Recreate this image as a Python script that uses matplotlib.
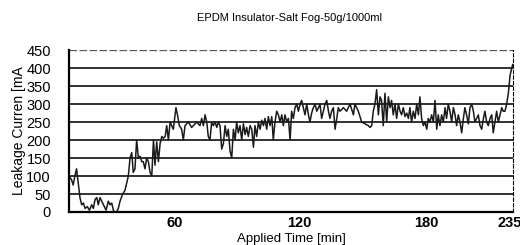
import numpy as np
import matplotlib.pyplot as plt

plt.rcParams['font.family'] = ['Liberation Sans', 'DejaVu Sans']

# leakage current trace (time in min, current in mA)
time_min = [0, 1.3, 2.2, 3.1, 4.0, 4.9, 5.8, 6.7, 7.6, 8.5, 9.7, 10.8, 12.0, 12.9, 13.8,
            14.7, 15.5, 16.4, 17.3, 18.2, 19.6, 20.8, 21.7, 22.6, 23.5, 24.3, 25.2, 26.1,
            27.0, 28.4, 29.6, 30.5, 31.4, 32.3, 33.2, 34.0, 34.9, 35.8, 36.7, 37.6, 38.5,
            39.3, 40.2, 41.1, 42.0, 42.9, 43.8, 44.7, 45.5, 46.4, 47.3, 48.2, 49.1, 50.0,
            50.9, 51.7, 52.6, 53.5,
            55.2, 56.6, 57.4, 58.4, 59.6, 60.5, 61.4, 63.2, 64.9, 67.6, 69.3, 70.2, 71.1,
            72.0, 72.9, 73.7, 74.6, 75.5, 76.4, 77.3, 78.2, 79.0, 79.9, 80.8, 81.7, 82.6,
            83.5, 84.3, 85.2, 86.1, 87.0, 87.9, 88.7, 89.6, 90.5, 91.4, 92.3, 93.2, 94.0,
            94.9, 95.8, 96.7, 97.6, 98.4, 99.3, 100.2, 101.1, 102.0, 102.9, 103.7, 104.6,
            105.5, 106.4, 107.3, 108.1, 109.0, 109.9, 110.8, 111.7, 112.6, 113.4, 114.3,
            115.2, 116.1, 117.0, 117.8, 118.7, 119.6, 120.5, 121.4, 122.3, 123.1, 124.0,
            124.9, 125.8, 126.7, 127.5, 128.4, 129.3, 130.2, 131.1, 132.0, 132.8, 133.7,
            134.6, 135.5, 136.4, 137.3, 138.1, 139.0, 139.9, 140.8, 141.7, 142.5,
            143.4, 145.2, 146.9, 148.7, 150.5, 151.3, 153.1, 154.9, 156.6, 158.4, 159.3,
            160.2, 161.0, 161.9, 162.8, 163.7, 164.6, 165.4, 166.3, 167.2, 168.1, 169.0,
            169.9, 170.7, 171.6, 172.5, 173.4, 174.3, 175.2, 176.0, 176.9, 177.8, 178.7,
            179.6, 180.4, 181.3, 182.2, 183.1, 184.0, 184.9, 185.7, 186.6, 187.5, 188.4,
            189.3, 190.1, 191.0, 191.9, 192.8, 193.7, 194.6, 195.4, 196.3, 197.2, 198.1,
            199.0, 199.8, 200.7, 201.6, 202.5, 203.4, 204.3, 205.1, 206.0, 206.9, 207.8,
            208.7, 209.5, 210.4, 211.3, 212.2, 213.1, 214.0, 214.8, 215.7, 216.6, 217.5,
            218.4, 219.3, 220.1, 221.0, 221.9, 222.8, 223.7, 224.5, 225.4, 226.3, 227.2,
            228.1, 229.0, 229.8, 230.7, 231.6, 232.5, 233.4, 234.3, 234.8]
current_ma = [100, 90, 75, 100, 120, 80, 40, 20, 25, 10, 15, 5, 20, 10, 35,
              40, 20, 40, 30, 20, 5, 30, 20, 25, 5, 0, 0, 10,
              30, 50, 60, 80, 100, 150, 165, 110, 120, 200, 150, 155, 140,
              140, 120, 150, 140, 110, 100, 200, 130, 195, 140, 190, 210, 205,
              210, 240, 200, 250,
              230, 290, 270, 240, 230, 200, 240, 250, 235, 250, 240, 260, 240,
              270, 250, 210, 200, 250, 240, 250, 235, 250, 240, 175, 190, 240,
              210, 230, 170, 150, 230, 200, 250, 220, 240, 200, 245, 215, 235,
              210, 240, 230, 180, 240, 210, 250, 230, 255, 240, 260, 230,
              265, 240, 265, 200, 250, 280, 270, 250, 270, 240, 270,
              250, 260, 200, 280, 260, 290, 300, 280, 300, 310, 290,
              270, 300, 270, 250, 275, 290, 300, 280, 290, 300, 260,
              280, 300, 310, 280, 260, 280, 290, 230, 260, 290,
              280, 290, 280, 300, 270, 300, 280, 250, 245, 240, 235,
              240, 280, 300, 340, 270, 320, 310, 240, 330, 250, 320,
              290, 310, 270, 300, 260, 300, 280, 270, 290, 265, 275,
              260, 290, 250, 280, 260, 300, 270, 320, 260, 240, 250,
              230, 260, 250, 270, 250, 310, 230, 270, 240, 270, 250,
              290, 260, 300, 280, 250, 290, 270, 240, 270, 250, 220,
              260, 290, 270, 245, 290, 300, 280, 250, 260, 270, 240,
              230, 260, 280, 250, 240, 260, 270, 220, 250, 280, 250,
              270, 290, 280, 280, 300, 330, 380, 400, 410]

# tick positions as they sit on the original axis
xtick_pos = [56, 122, 189, 233]
xtick_labels = ['60', '120', '180', '235']
yticks = np.arange(0, 451, 50)

fig = plt.figure(figsize=(5.2, 2.45), dpi=100)
ax = fig.add_axes([0.1327, 0.1347, 0.854, 0.661])

for y in yticks[1:-1]:
    ax.axhline(y, color='#222222', lw=1.3, zorder=1)
ax.axhline(450, color='#555555', lw=0.9, ls=(0, (6, 2)), zorder=1)

ax.plot(time_min, current_ma, color='#1a1a1a', lw=1.1, zorder=2)

ax.set_xlim(0, 235)
ax.set_ylim(0, 450)
ax.set_yticks(yticks)
ax.set_yticklabels([str(v) for v in yticks], fontsize=10.5)
ax.set_xticks(xtick_pos)
ax.set_xticklabels(xtick_labels, fontsize=10.5, fontweight='bold')
ax.tick_params(axis='y', length=0, pad=13)
ax.tick_params(axis='x', length=0, pad=3)

for s in ['left', 'bottom']:
    ax.spines[s].set_linewidth(1.6)
ax.spines['top'].set_visible(False)
ax.spines['right'].set_linestyle((0, (3, 2)))
ax.spines['right'].set_linewidth(0.8)

ax.set_xlabel('Applied Time [min]', fontsize=9.5, labelpad=2)
ax.set_ylabel('Leakage Curren [mA', fontsize=10, labelpad=0)
fig.text(0.557, 0.925, 'EPDM Insulator-Salt Fog-50g/1000ml', fontsize=8, ha='center', va='center')

fig.savefig('out.png', dpi=100)
